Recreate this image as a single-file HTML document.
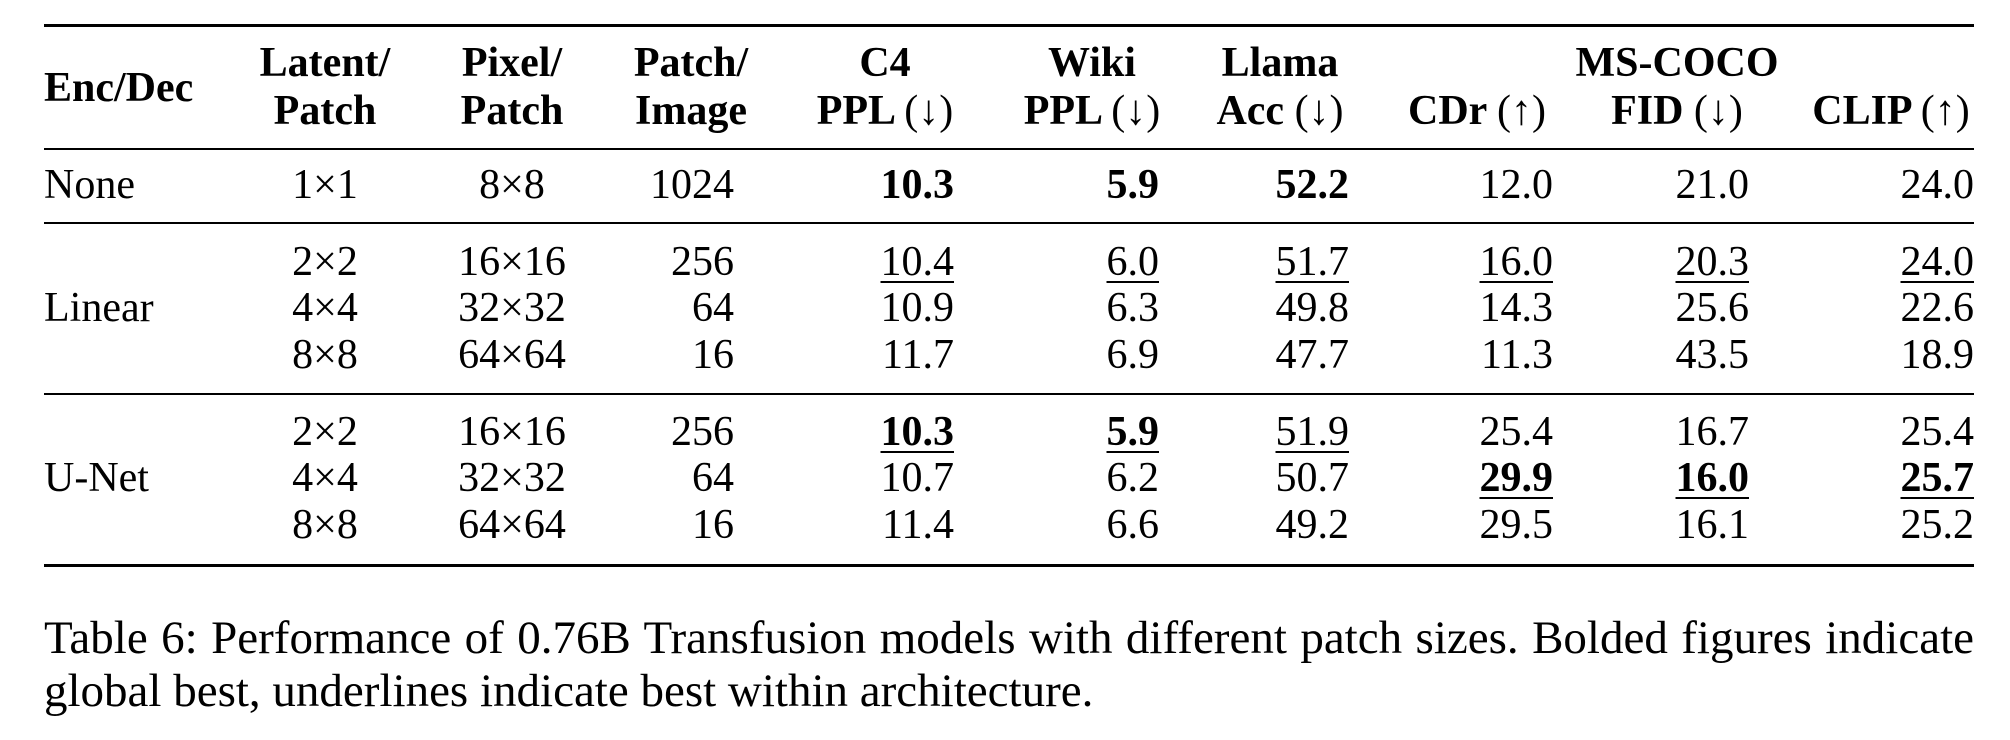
<!DOCTYPE html>
<html><head><meta charset="utf-8"><style>
html,body{margin:0;padding:0;background:#fff;}
body{width:2010px;height:740px;position:relative;overflow:hidden;font-family:"Liberation Serif","DejaVu Serif",serif;color:#000;}
.r{position:absolute;left:44px;width:1930px;background:#000;}
.t{position:absolute;font-size:42px;line-height:42px;white-space:nowrap;}
.R{text-align:right;width:300px;}
.C{text-align:center;width:400px;}
b{font-weight:bold;}
.h{font-weight:bold;}
.h span{font-weight:normal;}
u{text-decoration:underline;text-decoration-thickness:2px;text-underline-offset:6px;}
.cap{position:absolute;left:44px;width:1930px;font-size:47px;line-height:53px;text-align:justify;}
</style></head><body>
<div class="r" style="top:24px;height:3px"></div>
<div class="r" style="top:148px;height:2px"></div>
<div class="r" style="top:222px;height:2px"></div>
<div class="r" style="top:393px;height:2px"></div>
<div class="r" style="top:564px;height:3px"></div>

<!-- header -->
<div class="t h" style="left:44px;top:67px">Enc/Dec</div>
<div class="t h C" style="left:125px;top:42px">Latent/</div>
<div class="t h C" style="left:125px;top:90px">Patch</div>
<div class="t h C" style="left:312px;top:42px">Pixel/</div>
<div class="t h C" style="left:312px;top:90px">Patch</div>
<div class="t h C" style="left:491px;top:42px">Patch/</div>
<div class="t h C" style="left:491px;top:90px">Image</div>
<div class="t h C" style="left:685px;top:42px">C4</div>
<div class="t h C" style="left:685px;top:90px">PPL <span>(↓)</span></div>
<div class="t h C" style="left:892px;top:42px">Wiki</div>
<div class="t h C" style="left:892px;top:90px">PPL <span>(↓)</span></div>
<div class="t h C" style="left:1080px;top:42px">Llama</div>
<div class="t h C" style="left:1080px;top:90px">Acc <span>(↓)</span></div>
<div class="t h C" style="left:1477px;top:42px">MS-COCO</div>
<div class="t h C" style="left:1277px;top:90px">CDr <span>(↑)</span></div>
<div class="t h C" style="left:1477px;top:90px">FID <span>(↓)</span></div>
<div class="t h C" style="left:1691px;top:90px">CLIP <span>(↑)</span></div>

<!-- None -->
<div class="t" style="left:44px;top:164px">None</div>
<div class="t C" style="left:125px;top:164px">1×1</div>
<div class="t C" style="left:312px;top:164px">8×8</div>
<div class="t R" style="left:434px;top:164px">1024</div>
<div class="t R" style="left:654px;top:164px"><b>10.3</b></div>
<div class="t R" style="left:859px;top:164px"><b>5.9</b></div>
<div class="t R" style="left:1049px;top:164px"><b>52.2</b></div>
<div class="t R" style="left:1253px;top:164px">12.0</div>
<div class="t R" style="left:1449px;top:164px">21.0</div>
<div class="t R" style="left:1674px;top:164px">24.0</div>

<!-- Linear -->
<div class="t" style="left:44px;top:287px">Linear</div>
<div class="t C" style="left:125px;top:241px">2×2</div>
<div class="t C" style="left:312px;top:241px">16×16</div>
<div class="t R" style="left:434px;top:241px">256</div>
<div class="t R" style="left:654px;top:241px"><u>10.4</u></div>
<div class="t R" style="left:859px;top:241px"><u>6.0</u></div>
<div class="t R" style="left:1049px;top:241px"><u>51.7</u></div>
<div class="t R" style="left:1253px;top:241px"><u>16.0</u></div>
<div class="t R" style="left:1449px;top:241px"><u>20.3</u></div>
<div class="t R" style="left:1674px;top:241px"><u>24.0</u></div>

<div class="t C" style="left:125px;top:287px">4×4</div>
<div class="t C" style="left:312px;top:287px">32×32</div>
<div class="t R" style="left:434px;top:287px">64</div>
<div class="t R" style="left:654px;top:287px">10.9</div>
<div class="t R" style="left:859px;top:287px">6.3</div>
<div class="t R" style="left:1049px;top:287px">49.8</div>
<div class="t R" style="left:1253px;top:287px">14.3</div>
<div class="t R" style="left:1449px;top:287px">25.6</div>
<div class="t R" style="left:1674px;top:287px">22.6</div>

<div class="t C" style="left:125px;top:334px">8×8</div>
<div class="t C" style="left:312px;top:334px">64×64</div>
<div class="t R" style="left:434px;top:334px">16</div>
<div class="t R" style="left:654px;top:334px">11.7</div>
<div class="t R" style="left:859px;top:334px">6.9</div>
<div class="t R" style="left:1049px;top:334px">47.7</div>
<div class="t R" style="left:1253px;top:334px">11.3</div>
<div class="t R" style="left:1449px;top:334px">43.5</div>
<div class="t R" style="left:1674px;top:334px">18.9</div>

<!-- U-Net -->
<div class="t" style="left:44px;top:457px">U-Net</div>
<div class="t C" style="left:125px;top:411px">2×2</div>
<div class="t C" style="left:312px;top:411px">16×16</div>
<div class="t R" style="left:434px;top:411px">256</div>
<div class="t R" style="left:654px;top:411px"><u><b>10.3</b></u></div>
<div class="t R" style="left:859px;top:411px"><u><b>5.9</b></u></div>
<div class="t R" style="left:1049px;top:411px"><u>51.9</u></div>
<div class="t R" style="left:1253px;top:411px">25.4</div>
<div class="t R" style="left:1449px;top:411px">16.7</div>
<div class="t R" style="left:1674px;top:411px">25.4</div>

<div class="t C" style="left:125px;top:457px">4×4</div>
<div class="t C" style="left:312px;top:457px">32×32</div>
<div class="t R" style="left:434px;top:457px">64</div>
<div class="t R" style="left:654px;top:457px">10.7</div>
<div class="t R" style="left:859px;top:457px">6.2</div>
<div class="t R" style="left:1049px;top:457px">50.7</div>
<div class="t R" style="left:1253px;top:457px"><u><b>29.9</b></u></div>
<div class="t R" style="left:1449px;top:457px"><u><b>16.0</b></u></div>
<div class="t R" style="left:1674px;top:457px"><u><b>25.7</b></u></div>

<div class="t C" style="left:125px;top:504px">8×8</div>
<div class="t C" style="left:312px;top:504px">64×64</div>
<div class="t R" style="left:434px;top:504px">16</div>
<div class="t R" style="left:654px;top:504px">11.4</div>
<div class="t R" style="left:859px;top:504px">6.6</div>
<div class="t R" style="left:1049px;top:504px">49.2</div>
<div class="t R" style="left:1253px;top:504px">29.5</div>
<div class="t R" style="left:1449px;top:504px">16.1</div>
<div class="t R" style="left:1674px;top:504px">25.2</div>

<div class="cap" style="top:612px;text-align-last:justify;">Table 6: Performance of 0.76B Transfusion models with different patch sizes. Bolded figures indicate</div>
<div class="cap" style="top:665px;text-align:left;">global best, underlines indicate best within architecture.</div>
</body></html>
